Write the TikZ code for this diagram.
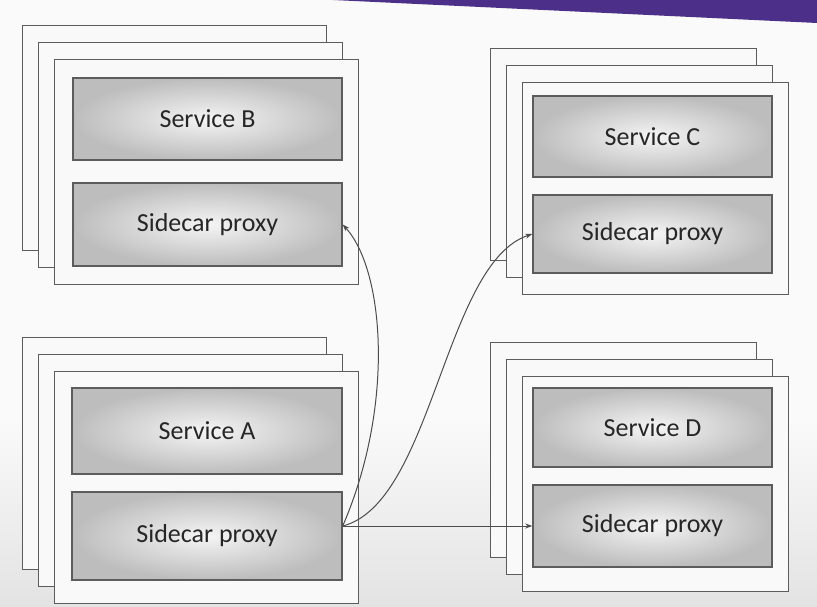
\documentclass[tikz,border=0pt]{standalone}
\usepackage{fontspec}
\setmainfont{Carlito}
\usetikzlibrary{arrows.meta,positioning,calc}
\definecolor{slidebar}{HTML}{4B2F88}
\definecolor{edge}{HTML}{5C5C5C}
\tikzset{
  card/.style={draw=edge,line width=1.4pt,fill=gray!5,anchor=north west,inner sep=0pt},
  part/.style={draw=edge,line width=1.4pt,inner color=gray!8,outer color=gray!52,inner sep=0pt,text=black!85,font=\fontsize{26}{30}\selectfont},
  arr/.style={-{Stealth[length=7pt,width=5pt]},line width=1pt,draw=black!70},
}

\begin{document}
\begin{tikzpicture}[x=1pt,y=-1pt]
 \useasboundingbox (0,0) rectangle (817,607);
 \fill[white!98!black] (0,0) rectangle (817,420);
 \shade[top color=white!98!black,bottom color=gray!22] (0,420) rectangle (817,607);
 \fill[slidebar] (333,0) -- (817,0) -- (817,23) -- cycle;
 % three stacked instances per service
 \foreach \g/\x/\y/\w/\h in {b/22/25/304/225,a/22/337/304/232,c/490/48/266/212,d/490/342/266/215}{
   \foreach \i in {0,1,2}{\node[card,minimum width=\w pt,minimum height=\h pt] (\g\i) at (\x+\i*16,\y+\i*17){};}
 }
 \node[part,minimum width=269pt,minimum height=82pt] (sb) at (207.5,119) {Service B};
 \node[part,minimum width=269pt,minimum height=83pt] (pb) at (207.5,224.5) {Sidecar proxy};
 \node[part,minimum width=270pt,minimum height=86pt] (sa) at (207,431) {Service A};
 \node[part,minimum width=270pt,minimum height=88pt] (pa) at (207,536) {Sidecar proxy};
 \node[part,minimum width=239pt,minimum height=81pt] (sc) at (652.5,136.5) {Service C};
 \node[part,minimum width=239pt,minimum height=78pt] (pc) at (652.5,234) {Sidecar proxy};
 \node[part,minimum width=239pt,minimum height=79pt] (sd) at (652.5,427.5) {Service D};
 \node[part,minimum width=239pt,minimum height=82pt] (pd) at (652.5,526) {Sidecar proxy};
 % calls leaving the proxy of A
 \coordinate (pa-out) at (pa.east |- pd.west);
 \draw[arr] (pa-out) -- (pd.west);
 \draw[arr] (pa-out) .. controls +(52,-120) and +(42,46) .. (pb.east);
 \draw[arr] (pa-out) .. controls +(90,-23) and +(-88,29) .. (pc.west);
\end{tikzpicture}
\end{document}
